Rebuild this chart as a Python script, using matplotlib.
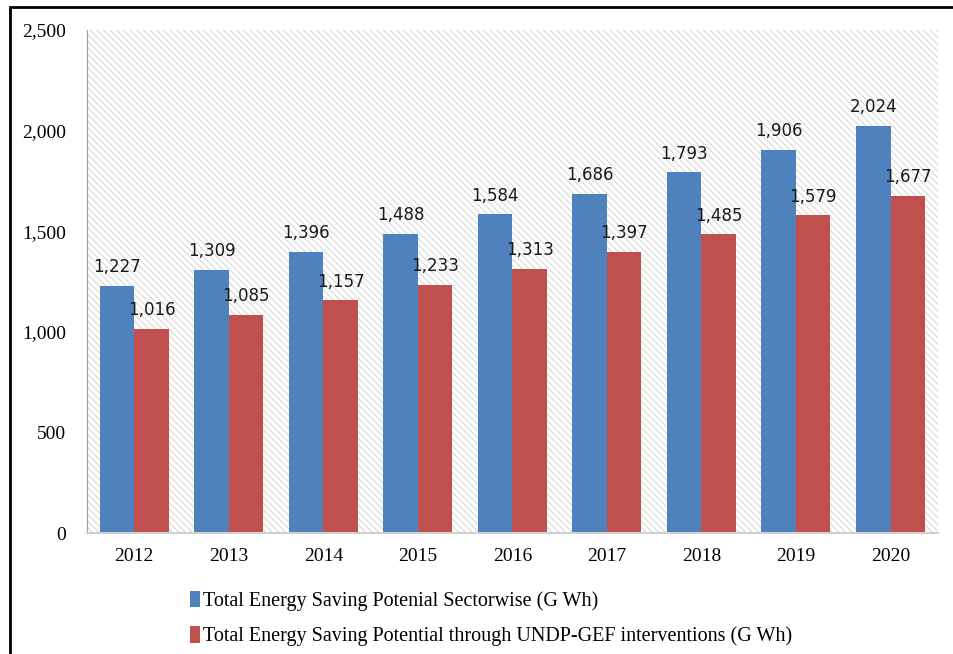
import matplotlib.pyplot as plt
import numpy as np
from matplotlib.patches import Rectangle

years = ["2012", "2013", "2014", "2015", "2016", "2017", "2018", "2019", "2020"]
sectorwise = [1227, 1309, 1396, 1488, 1584, 1686, 1793, 1906, 2024]
undp_gef = [1016, 1085, 1157, 1233, 1313, 1397, 1485, 1579, 1677]
yticks = [0, 500, 1000, 1500, 2000, 2500]

blue = "#4F81BD"
red = "#C0504D"

plt.rcParams["hatch.linewidth"] = 0.7

fig = plt.figure(figsize=(9.54, 6.54), dpi=100)
ax = fig.add_axes([0.0912, 0.185, 0.8918, 0.769])

# hatched plot background
ax.add_patch(Rectangle((0, 0), 1, 1, transform=ax.transAxes, facecolor="white",
                       edgecolor="#d2d2d2", hatch="\\\\\\\\\\", linewidth=0, zorder=0))

x = np.arange(len(years))
w = 0.365
b1 = ax.bar(x - w / 2, sectorwise, w, color=blue, zorder=2,
            label="Total Energy Saving Potenial Sectorwise (G Wh)")
b2 = ax.bar(x + w / 2, undp_gef, w, color=red, zorder=2,
            label="Total Energy Saving Potential through UNDP-GEF interventions (G Wh)")

for bars, vals in ((b1, sectorwise), (b2, undp_gef)):
    for r, v in zip(bars, vals):
        ax.annotate(f"{v:,}", (r.get_x() + r.get_width() / 2, v), xytext=(0, 7),
                    textcoords="offset points", ha="center", va="bottom",
                    fontsize=12, family="DejaVu Sans", color="#1a1a1a", zorder=3)

ax.set_xlim(-0.5, len(years) - 0.5)
ax.set_ylim(0, 2500)
ax.set_yticks(yticks)
ax.set_yticklabels([f"{t:,}" for t in yticks], family="Liberation Serif", fontsize=14)
ax.set_xticks(x)
ax.set_xticklabels(years, family="Liberation Serif", fontsize=14)
ax.tick_params(axis="both", length=0)
ax.tick_params(axis="y", pad=15)
ax.tick_params(axis="x", pad=11)

for s in ("top", "right"):
    ax.spines[s].set_visible(False)
ax.spines["left"].set_color("#a0a0a0")
ax.spines["bottom"].set_color("#d0d0d0")
ax.spines["bottom"].set_linewidth(1.5)

leg = fig.legend(handles=[b1, b2], loc="upper left", bbox_to_anchor=(0.199, 0.097),
                 frameon=False, prop={"family": "Liberation Serif", "size": 14.5},
                 handlelength=0.5, handleheight=0.9, handletextpad=0.15,
                 labelspacing=0.75, borderaxespad=0, borderpad=0)

# outer frame
fig.patches.append(Rectangle((10 / 954, -0.05), 1.2, 1.05 - 7 / 654, transform=fig.transFigure,
                             fill=False, edgecolor="black", linewidth=2))

fig.savefig("out.png", dpi=100)
